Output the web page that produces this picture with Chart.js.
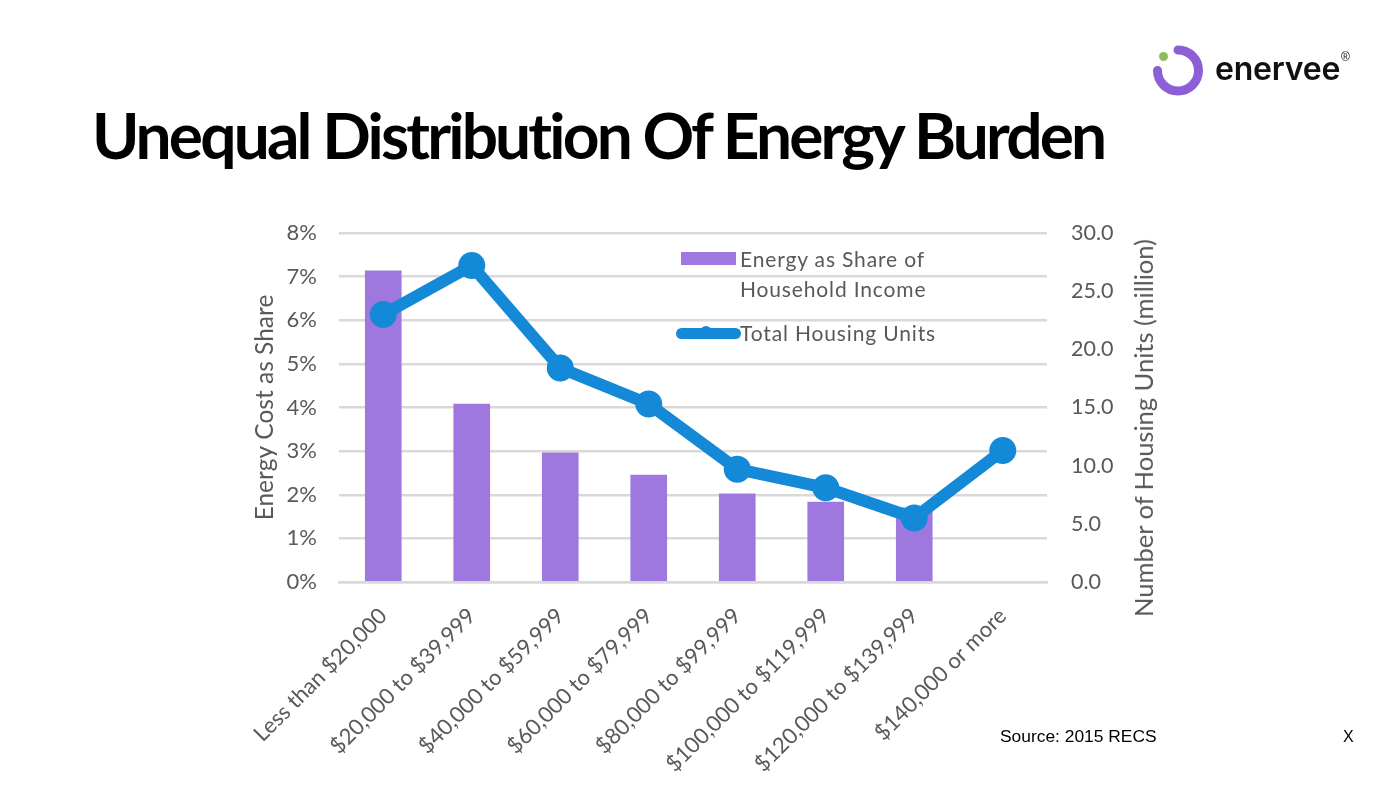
<!DOCTYPE html>
<html>
<head>
<meta charset="utf-8">
<title>Unequal Distribution Of Energy Burden</title>
<script src="https://cdn.jsdelivr.net/npm/chart.js@4"></script>
<style>
  html, body { margin: 0; padding: 0; background: #fff; }
  #page { position: relative; width: 1400px; height: 787px; overflow: hidden; background: #fff; }
  #mycanvas { position: absolute; left: 0; top: 0; }
  .txt { position: absolute; white-space: nowrap; }
  #title { left: 92px; top: 96px; font: 700 64px Lato; letter-spacing: -2.85px; color: #000; }
  #source { left: 1000px; top: 726px; font: 17.4px "Liberation Sans"; color: #000; }
  #mark { left: 1343px; top: 728px; font: 16px "Liberation Sans"; color: #000; }
  #brand { left: 1215px; top: 49px; font: 600 32px Inter; letter-spacing: -0.2px; color: #111; }
  #reg { left: 1341px; top: 50px; font: 12px "Liberation Sans"; color: #111; }
  .leg { font: 21px Lato; letter-spacing: 0.85px; color: #595959; left: 740px; }
  #swatch { position: absolute; left: 681px; top: 252px; width: 55px; height: 13px; background: #9e78de; }
  #legline { position: absolute; left: 676px; top: 328px; width: 65px; height: 11px; border-radius: 6px; background: #1489d8; }
  #legdot { position: absolute; left: 700px; top: 326px; width: 12px; height: 12px; border-radius: 6px; background: #1489d8; }
  #logo { position: absolute; left: 0; top: 0; }
  #ytitle2 { left: 1143px; top: 428px; font: 25.5px Lato; color: #595959; transform: translate(-50%, -50%) rotate(-90deg); }
</style>
</head>
<body>
<div id="page">
  <canvas id="mycanvas" width="1400" height="787"></canvas>
  <svg id="logo" width="1400" height="110">
    <path d="M1178 50 A 20.500 20.500 0 1 1 1157.500 70.500" fill="none" stroke="#8c5fd6" stroke-width="9" stroke-linecap="round"/>
    <circle cx="1163.500" cy="56.500" r="4.500" fill="#8fbc5f"/>
  </svg>
  <div class="txt" id="brand">enervee</div>
  <div class="txt" id="reg">®</div>
  <div class="txt" id="title">Unequal Distribution Of Energy Burden</div>
  <div id="swatch"></div>
  <div class="txt leg" style="top:246px">Energy as Share of</div>
  <div class="txt leg" style="top:276px">Household Income</div>
  <div id="legline"></div>
  <div id="legdot"></div>
  <div class="txt leg" style="top:320px">Total Housing Units</div>
  <div class="txt" id="ytitle2">Number of Housing Units (million)</div>
  <div class="txt" id="source">Source: 2015 RECS</div>
  <div class="txt" id="mark">X</div>
</div>
<script>
var categories = ["Less than $20,000", "$20,000 to $39,999", "$40,000 to $59,999", "$60,000 to $79,999",
  "$80,000 to $99,999", "$100,000 to $119,999", "$120,000 to $139,999", "$140,000 or more"];
var energyShare = [7.13, 4.08, 2.96, 2.45, 2.02, 1.83, 1.70, null];
var housingUnits = [23.0, 27.2, 18.4, 15.3, 9.7, 8.1, 5.5, 11.3];

var textColor = "#595959";
var gridColor = "#d9d9d9";

var ctx = document.getElementById("mycanvas");
var chart = new Chart(ctx, {
  type: "bar",
  data: {
    labels: categories,
    datasets: [
      {
        type: "line",
        label: "Total Housing Units",
        data: housingUnits,
        yAxisID: "y2",
        borderColor: "#1489d8",
        backgroundColor: "#1489d8",
        borderWidth: 12,
        pointBorderWidth: 0,
        pointRadius: 13.5,
        tension: 0,
        order: 1
      },
      {
        label: "Energy as Share of Household Income",
        data: energyShare,
        yAxisID: "y",
        backgroundColor: "#9e78de",
        barThickness: 36,
        order: 2
      }
    ]
  },
  options: {
    responsive: false,
    animation: false,
    layout: { padding: { left: 250, right: 245, top: 233, bottom: 0 } },
    plugins: { legend: { display: false }, tooltip: { enabled: false } },
    scales: {
      x: {
        grid: { display: false },
        border: { color: gridColor, width: 2.5 },
        ticks: { color: textColor, font: { family: "Lato", size: 22 }, minRotation: 45, maxRotation: 45, autoSkip: false, padding: 13 },
        afterFit: function(scale) { scale.height = 205; }
      },
      y: {
        position: "left",
        min: 0,
        max: 8,
        grid: { color: gridColor, lineWidth: 2.5, drawTicks: false },
        border: { display: false },
        ticks: { color: textColor, font: { family: "Lato", size: 22 }, stepSize: 1, padding: 22,
          callback: function(v) { return v + "%"; } },
        title: { display: true, text: "Energy Cost as Share", color: textColor, font: { family: "Lato", size: 24.5 }, padding: 0 },
        afterFit: function(scale) { scale.width = 89; }
      },
      y2: {
        position: "right",
        min: 0,
        max: 30,
        grid: { display: false, drawTicks: false },
        border: { display: false },
        ticks: { color: textColor, font: { family: "Lato", size: 21.5 }, stepSize: 5, padding: 24,
          callback: function(v) { return v.toFixed(1); } },
        afterFit: function(scale) { scale.width = 108; }
      }
    }
  }
});
</script>
</body>
</html>
